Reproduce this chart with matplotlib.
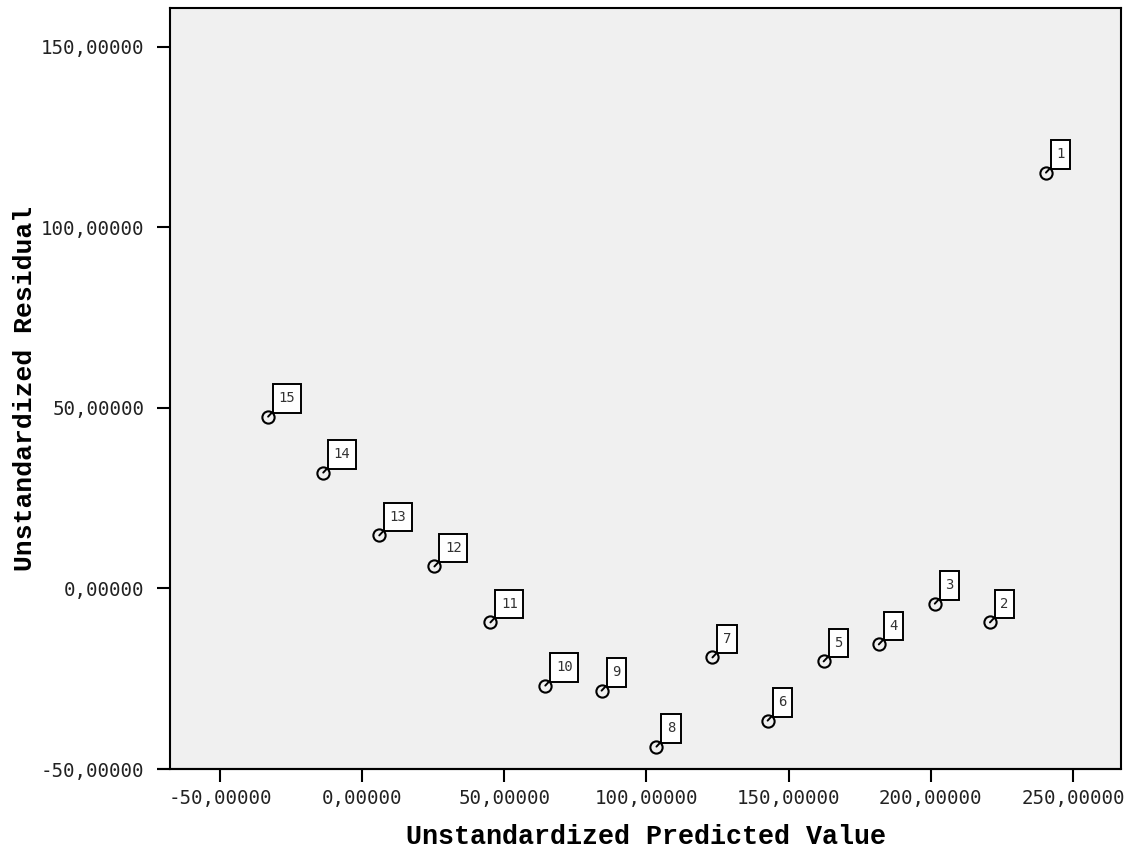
import matplotlib
matplotlib.use("Agg")
import matplotlib.pyplot as plt
from matplotlib.ticker import FuncFormatter
from matplotlib.path import Path

# Data
case_ids = [1, 2, 3, 4, 5, 6, 7, 8, 9, 10, 11, 12, 13, 14, 15]
predicted = [240.5, 220.8, 201.4, 181.7, 162.3, 142.6, 123.2, 103.5,
             84.2, 64.4, 45.1, 25.4, 6.0, -13.7, -33.1]
residual = [115.2, -9.4, -4.2, -15.5, -20.2, -36.6, -19.1, -43.8,
            -28.3, -26.9, -9.4, 6.1, 14.7, 32.1, 47.6]
x_ticks = [-50, 0, 50, 100, 150, 200, 250]
y_ticks = [-50, 0, 50, 100, 150]
x_title = "Unstandardized Predicted Value"
y_title = "Unstandardized Residual"


def label_box(x0, y0, width, height, mutation_size):
    padx = 0.40 * mutation_size
    pady = 0.52 * mutation_size
    x0 -= padx
    y0 -= pady
    w = width + 2 * padx
    h = height + 2 * pady
    return Path([(x0, y0), (x0 + w, y0), (x0 + w, y0 + h), (x0, y0 + h), (x0, y0)],
                closed=True)


fig = plt.figure(figsize=(11.31, 8.5), dpi=100)
ax = fig.add_axes([170/1131, 1 - 769/850, (1121-170)/1131, (769-8)/850])
ax.set_facecolor("#f0f0f0")

ax.plot(predicted, residual, linestyle="none", marker="o", ms=8.8,
        mfc="none", mec="black", mew=1.5, zorder=3)

for cid, x, y in zip(case_ids, predicted, residual):
    ax.annotate(str(cid), xy=(x, y), xytext=(7.6, 8.1), textcoords="offset points",
                ha="left", va="bottom", family="DejaVu Sans Mono", fontsize=10,
                color="#333333",
                bbox=dict(boxstyle=label_box, fc="white", ec="black", lw=1.4),
                arrowprops=dict(arrowstyle="-", color="black", lw=1.4,
                                shrinkA=0, shrinkB=0, relpos=(0, 0)),
                zorder=4)

ax.set_xlim(-67.6, 266.9)
ax.set_ylim(-50, 160.8)
ax.set_xticks(x_ticks)
ax.set_yticks(y_ticks)
fmt = FuncFormatter(lambda v, p: ("%.5f" % v).replace(".", ","))
ax.xaxis.set_major_formatter(fmt)
ax.yaxis.set_major_formatter(fmt)
for lab in ax.get_xticklabels() + ax.get_yticklabels():
    lab.set_family("DejaVu Sans Mono")
    lab.set_fontsize(13.8)
    lab.set_color("#222222")
ax.tick_params(axis="x", length=9.4, width=1.5, pad=4.7, direction="out")
ax.tick_params(axis="y", length=9.4, width=1.5, pad=9, direction="out")

for s in ax.spines.values():
    s.set_linewidth(1.5)

# extended bottom axis line
ax.plot([-0.014, 1], [0, 0], transform=ax.transAxes, color="black", lw=1.5,
        clip_on=False, solid_capstyle="butt")

ax.set_xlabel(x_title, family="Liberation Mono", fontweight="bold", fontsize=19.3,
              labelpad=12)
ax.set_ylabel(y_title, family="Liberation Mono", fontweight="bold", fontsize=19,
              labelpad=2.5)

fig.savefig("out.png", dpi=100)
